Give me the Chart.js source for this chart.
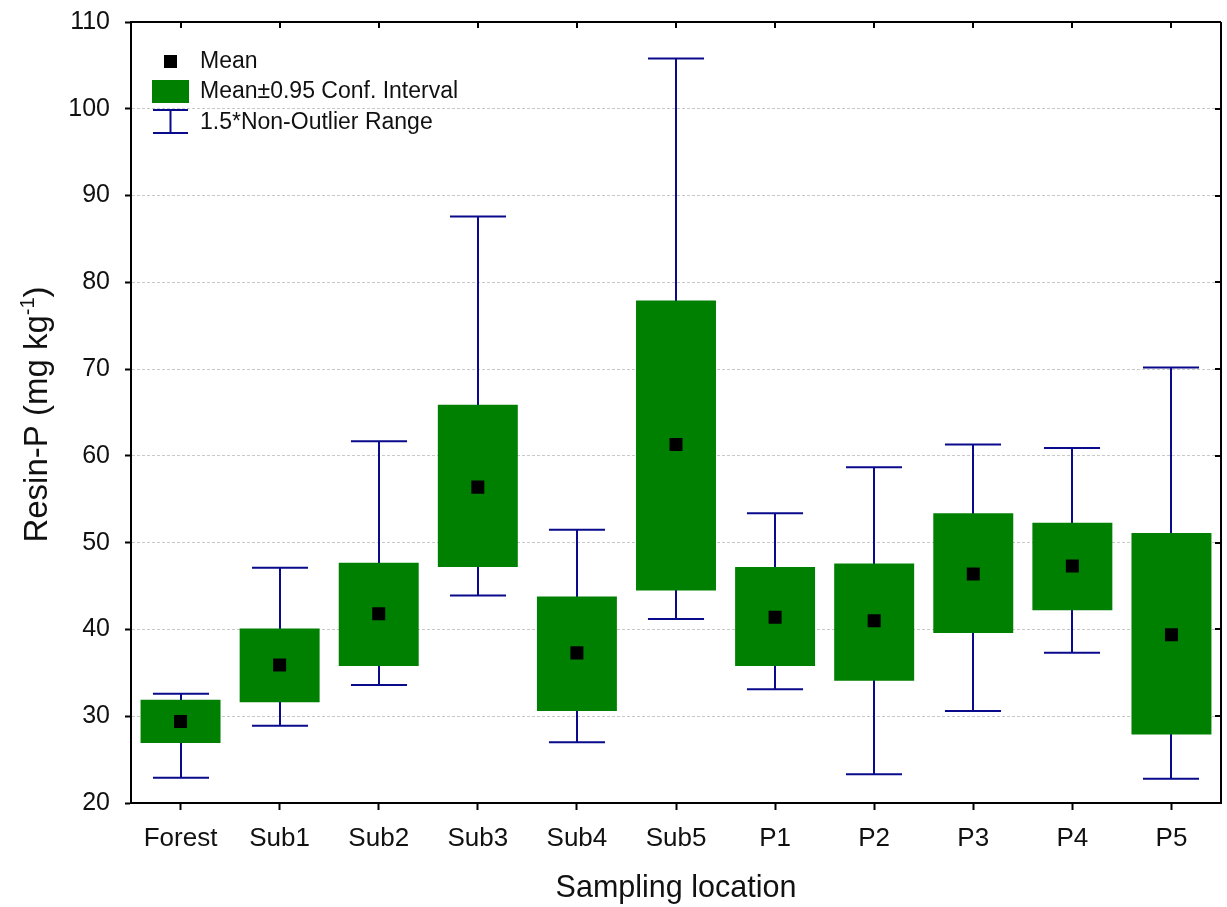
<!DOCTYPE html>
<html>
<head>
<meta charset="utf-8">
<script src="https://cdn.jsdelivr.net/npm/chart.js@4.4.1/dist/chart.umd.min.js"></script>
<style>
  html, body { margin: 0; padding: 0; background: #ffffff; }
  #wrap { width: 1227px; height: 907px; position: relative; }
</style>
</head>
<body>
<div id="wrap"><canvas id="c" width="1227" height="907"></canvas></div>
<script>
// ---- Data ----
const categories  = ['Forest', 'Sub1', 'Sub2', 'Sub3', 'Sub4', 'Sub5', 'P1', 'P2', 'P3', 'P4', 'P5'];
const means       = [29.4, 35.9, 41.8, 56.4, 37.3, 61.3, 41.4, 41.0, 46.4, 47.3, 39.4];
const ciLow       = [26.9, 31.6, 35.8, 47.2, 30.6, 44.5, 35.8, 34.1, 39.6, 42.2, 27.9];
const ciHigh      = [31.9, 40.1, 47.7, 65.9, 43.8, 77.9, 47.2, 47.6, 53.4, 52.3, 51.1];
const whiskerLow  = [22.9, 28.9, 33.6, 43.9, 27.0, 41.2, 33.1, 23.3, 30.6, 37.3, 22.8];
const whiskerHigh = [32.6, 47.1, 61.7, 87.6, 51.5, 105.8, 53.4, 58.7, 61.3, 60.9, 70.2];
const yTicks      = [20, 30, 40, 50, 60, 70, 80, 90, 100, 110];
const legendLabels = ['Mean', 'Mean\u00b10.95 Conf. Interval', '1.5*Non-Outlier Range'];
const yTitleMain = 'Resin-P (mg kg';
const yTitleSup  = '-1';
const yTitleEnd  = ')';
const xTitle     = 'Sampling location';

const FONT = '"Liberation Sans", Arial, sans-serif';
const GREEN = '#008000';
const NAVY = '#0a0a8c';
const TXT = '#111111';

// whiskers drawn before datasets so the boxes cover the stems
const whiskerPlugin = {
  id: 'whiskers',
  beforeDatasetsDraw(chart) {
    const { ctx, scales: { x, y } } = chart;
    const cw = x.getPixelForValue(1) - x.getPixelForValue(0);
    const half = cw * 0.283;
    ctx.save();
    ctx.strokeStyle = NAVY;
    ctx.lineWidth = 2;
    categories.forEach((c, i) => {
      const px = Math.round(x.getPixelForValue(i));
      const yl = y.getPixelForValue(whiskerLow[i]);
      const yh = y.getPixelForValue(whiskerHigh[i]);
      ctx.beginPath();
      ctx.moveTo(px, yl); ctx.lineTo(px, yh);
      ctx.moveTo(px - half, yl); ctx.lineTo(px + half, yl);
      ctx.moveTo(px - half, yh); ctx.lineTo(px + half, yh);
      ctx.stroke();
    });
    ctx.restore();
  }
};

// frame (top/right), inward ticks, legend, y title
const decorPlugin = {
  id: 'decor',
  afterDraw(chart) {
    const { ctx, chartArea: a, scales: { x, y } } = chart;
    ctx.save();
    ctx.strokeStyle = '#000';
    ctx.lineWidth = 2;
    ctx.beginPath();
    ctx.moveTo(a.left - 1, a.top); ctx.lineTo(a.right, a.top);
    ctx.moveTo(a.right, a.top); ctx.lineTo(a.right, a.bottom + 1);
    ctx.stroke();
    // inward ticks on right axis
    ctx.beginPath();
    yTicks.forEach(v => {
      const py = Math.round(y.getPixelForValue(v));
      ctx.moveTo(a.right, py); ctx.lineTo(a.right - 6, py);
    });
    // inward ticks on top axis
    categories.forEach((c, i) => {
      const px = Math.round(x.getPixelForValue(i));
      ctx.moveTo(px, a.top); ctx.lineTo(px, a.top + 6);
    });
    ctx.stroke();

    // legend
    const lx = a.left + 21;
    ctx.fillStyle = '#000';
    ctx.fillRect(lx + 12, 55, 13, 13);
    ctx.fillStyle = GREEN;
    ctx.fillRect(lx, 80, 37, 23);
    ctx.strokeStyle = NAVY;
    ctx.lineWidth = 2;
    ctx.beginPath();
    ctx.moveTo(lx + 1, 110); ctx.lineTo(lx + 36, 110);
    ctx.moveTo(lx + 18.5, 110); ctx.lineTo(lx + 18.5, 133);
    ctx.moveTo(lx + 1, 133); ctx.lineTo(lx + 36, 133);
    ctx.stroke();
    ctx.fillStyle = TXT;
    ctx.font = '23px ' + FONT;
    ctx.textBaseline = 'middle';
    ctx.textAlign = 'left';
    ctx.fillText(legendLabels[0], lx + 48, 62);
    ctx.fillText(legendLabels[1], lx + 48, 92);
    ctx.fillText(legendLabels[2], lx + 48, 123);

    // y title with superscript
    ctx.save();
    const big = '33px ' + FONT, small = '20px ' + FONT;
    ctx.font = big; const w1 = ctx.measureText(yTitleMain).width;
    const w3 = ctx.measureText(yTitleEnd).width;
    ctx.font = small; const w2 = ctx.measureText(yTitleSup).width;
    const total = w1 + w2 + w3;
    const cy = (a.top + a.bottom) / 2 + 2;
    ctx.translate(47, cy);
    ctx.rotate(-Math.PI / 2);
    ctx.textBaseline = 'alphabetic';
    ctx.textAlign = 'left';
    ctx.fillStyle = TXT;
    let sx = -total / 2;
    ctx.font = big; ctx.fillText(yTitleMain, sx, 0); sx += w1;
    ctx.font = small; ctx.fillText(yTitleSup, sx, -13); sx += w2;
    ctx.font = big; ctx.fillText(yTitleEnd, sx, 0);
    ctx.restore();

    ctx.restore();
  }
};

const boxData = categories.map((c, i) => [ciLow[i], ciHigh[i]]);

new Chart(document.getElementById('c'), {
  type: 'bar',
  data: {
    labels: categories,
    datasets: [
      {
        type: 'line',
        label: legendLabels[0],
        data: means,
        showLine: false,
        pointStyle: 'rect',
        pointRadius: 9.2,
        pointHoverRadius: 9.2,
        pointBackgroundColor: '#000',
        pointBorderWidth: 0,
        borderWidth: 0,
        order: 0
      },
      {
        type: 'bar',
        label: legendLabels[1],
        data: boxData,
        backgroundColor: GREEN,
        borderWidth: 0,
        categoryPercentage: 1.0,
        barPercentage: 0.807,
        order: 1
      }
    ]
  },
  options: {
    responsive: false,
    animation: false,
    events: [],
    layout: { autoPadding: false, padding: { left: 0, top: 22, right: 6, bottom: 0 } },
    plugins: {
      legend: { display: false },
      tooltip: { enabled: false },
      title: { display: false }
    },
    scales: {
      x: {
        type: 'category',
        offset: true,
        grid: {
          display: true,
          offset: false,
          drawOnChartArea: false,
          drawTicks: true,
          tickLength: 7,
          tickColor: '#000',
          tickWidth: 2
        },
        border: { display: true, color: '#000', width: 2 },
        ticks: {
          color: TXT,
          font: { family: FONT, size: 26 },
          padding: 13,
          maxRotation: 0,
          autoSkip: false
        },
        title: {
          display: true,
          text: xTitle,
          color: TXT,
          font: { family: FONT, size: 30.5 },
          padding: { top: 12, bottom: 0 }
        },
        afterFit(scale) { scale.height = 104; scale.paddingLeft = 0; scale.paddingRight = 0; }
      },
      y: {
        min: 20,
        max: 110,
        afterBuildTicks(scale) { scale.ticks = yTicks.map(v => ({ value: v })); },
        grid: {
          color: (ctx) => (ctx.tick && (ctx.tick.value === 20 || ctx.tick.value === 110)) ? 'rgba(0,0,0,0)' : '#c8c8c8',
          lineWidth: 1,
          drawTicks: true,
          tickLength: 6,
          tickColor: '#000',
          tickWidth: 2,
          tickBorderDash: []
        },
        border: { display: true, color: '#000', width: 2, dash: [3, 2] },
        ticks: {
          color: TXT,
          font: { family: FONT, size: 25 },
          padding: 15
        },
        title: { display: false },
        afterFit(scale) { scale.width = 131; scale.paddingTop = 0; scale.paddingBottom = 0; }
      }
    }
  },
  plugins: [whiskerPlugin, decorPlugin]
});
</script>
</body>
</html>
